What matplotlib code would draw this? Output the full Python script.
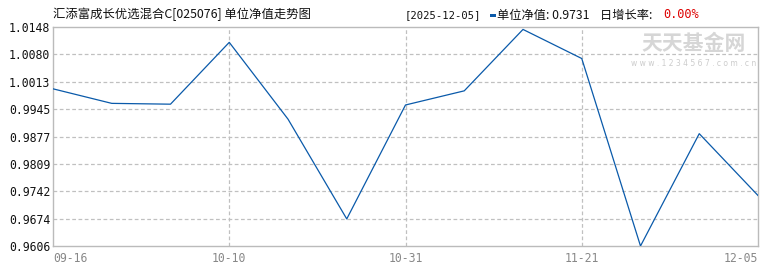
import matplotlib
matplotlib.use("Agg")
import matplotlib.pyplot as plt
from matplotlib.patches import Rectangle

plt.rcParams['font.family'] = ['Noto Sans CJK SC', 'DejaVu Sans']

# ---- data ----
nav_values = [0.9995, 0.9959, 0.9957, 1.0110, 0.9920, 0.9673, 0.9955,
              0.9990, 1.0142, 1.0070, 0.9606, 0.9884, 0.9731]
x_tick_idx = [0, 3, 6, 9, 12]
x_tick_labels = ["09-16", "10-10", "10-31", "11-21", "12-05"]
y_ticks = [0.9606, 0.9674, 0.9742, 0.9809, 0.9877, 0.9945, 1.0013, 1.0080, 1.0148]
y_tick_labels = ["0.9606", "0.9674", "0.9742", "0.9809", "0.9877", "0.9945",
                 "1.0013", "1.0080", "1.0148"]
title = "汇添富成长优选混合C[025076] 单位净值走势图"
date_str = "[2025-12-05]"
nav_label = "单位净值: 0.9731"
growth_label = "日增长率: "
growth_value = "0.00%"

W, H = 770, 270
fig = plt.figure(figsize=(W / 100, H / 100), dpi=100)
L, R, T, B = 53, 758, 27, 246
ax = fig.add_axes([L / W, 1 - B / H, (R - L) / W, (B - T) / H])

xs = list(range(len(nav_values)))
ax.plot(xs, nav_values, color='#0a5aaa', lw=0.9, zorder=3)

ax.set_xlim(0, len(nav_values) - 1)
ax.set_ylim(y_ticks[0], y_ticks[-1])

for s in ax.spines.values():
    s.set_color('#bbbbbb')
    s.set_linewidth(1.0)

ax.set_yticks(y_ticks)
ax.set_yticklabels(y_tick_labels, family='DejaVu Sans Mono', fontsize=8.3, color='#111111')
ax.set_xticks(x_tick_idx)
ax.set_xticklabels(x_tick_labels, family='DejaVu Sans Mono', fontsize=8.3, color='#888888')
ax.tick_params(axis='both', length=0)
ax.tick_params(axis='y', pad=2)
ax.tick_params(axis='x', pad=4)
xl = ax.get_xticklabels()
xl[0].set_ha('left')
xl[-1].set_ha('right')

for yv in y_ticks[1:-1]:
    ax.axhline(yv, color='#c0c0c0', lw=0.9, ls=(0, (3, 2)), zorder=1)
for xv in x_tick_idx[1:-1]:
    ax.axvline(xv, color='#c0c0c0', lw=0.9, ls=(0, (3, 2)), zorder=1)

# watermark
fig.text(694 / W, 1 - 43 / H, "天天基金网", ha='center', va='center', fontsize=15,
         fontweight='bold', color='#d6d6d6', zorder=0)
fig.text(694 / W, 1 - 63 / H, "w w w . 1 2 3 4 5 6 7 . c o m . c n", ha='center', va='center',
         fontsize=5.5, color='#cccccc', family='DejaVu Sans', zorder=0)

# title + header
fig.text(53 / W, 1 - 14 / H, title, ha='left', va='center', fontsize=8.9, color='#111111')
fig.text(405 / W, 1 - 15 / H, date_str, ha='left', va='center', fontsize=7.6,
         color='#111111', family='DejaVu Sans Mono')
fig.add_artist(Rectangle((490 / W, 1 - 17 / H), 6 / W, 3 / H, transform=fig.transFigure,
                         color='#0a5aaa', lw=0))
fig.text(497 / W, 1 - 15 / H, nav_label, ha='left', va='center', fontsize=8.8, color='#111111')
fig.text(600 / W, 1 - 15 / H, growth_label, ha='left', va='center', fontsize=8.8, color='#111111')
fig.text(663 / W, 1 - 15 / H, growth_value, ha='left', va='center', fontsize=8.6,
         color='#dd0000', family='DejaVu Sans Mono')

fig.savefig("out.png", dpi=100)
